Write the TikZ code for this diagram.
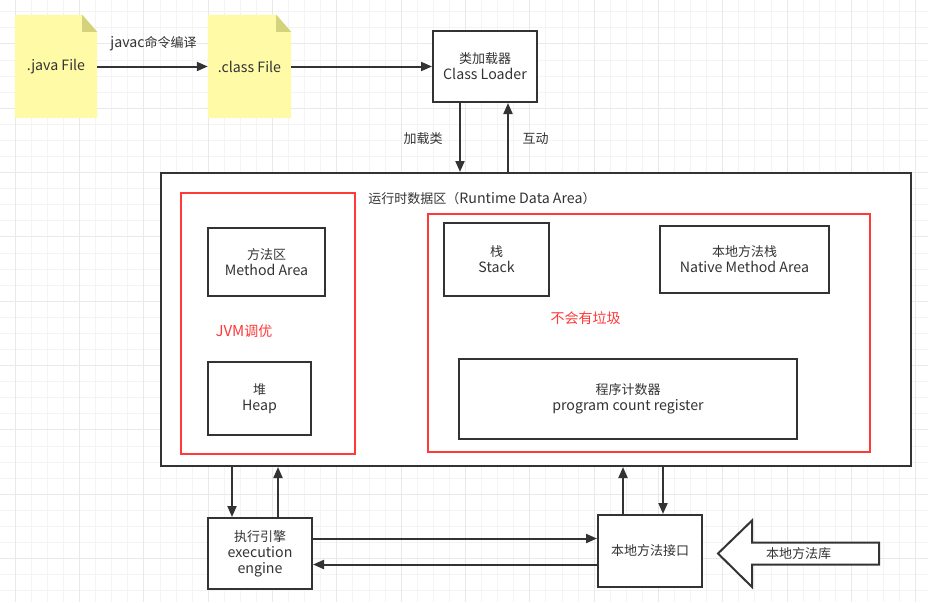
\documentclass[tikz,border=0pt]{standalone}
\usepackage{fontspec}
\setmainfont{Noto Sans CJK SC}
\newfontfamily\cj{Noto Sans CJK SC}
\usetikzlibrary{arrows.meta}
\definecolor{linec}{HTML}{333333}
\definecolor{textc}{HTML}{333333}
\definecolor{redc}{HTML}{FF3838}
\definecolor{notefill}{HTML}{FFFAA6}
\definecolor{notefold}{HTML}{D4D27A}
\definecolor{gridminor}{HTML}{F4F4F4}
\definecolor{gridmajor}{HTML}{E9E9E9}
\newcommand{\zh}[1]{{\cj\fontsize{13}{16}\selectfont #1}}
\newcommand{\zhr}[1]{{\cj\fontsize{14}{17}\selectfont #1}}
\tikzset{
  box/.style={draw=linec, line width=2pt, fill=white, align=center, inner sep=0pt,
    text=textc, font=\fontsize{14.2}{16}\selectfont},
  redbox/.style={draw=redc, line width=2pt, fill=white, inner sep=0pt},
  notebox/.style={inner sep=0pt, text=textc, font=\fontsize{14.2}{16}\selectfont},
  lbl/.style={inner sep=0pt, text=textc, font=\fontsize{14.2}{16}\selectfont},
  redlbl/.style={inner sep=0pt, text=redc, font=\fontsize{15}{17}\selectfont},
  arr/.style={draw=linec, line width=2pt, -{Triangle[length=11pt,width=9pt]}},
}
\begin{document}
\begin{tikzpicture}[x=1pt,y=-1pt]
\fill[white] (0,0) rectangle (928,602);
\useasboundingbox (0,0) rectangle (928,602);
% grid
\foreach \i in {-1,...,57} {\draw[gridminor, line width=1pt] ({15.3+16.08*\i},0) -- ({15.3+16.08*\i},602);}
\foreach \j in {-1,...,37} {\draw[gridminor, line width=1pt] (0,{11.84+16.08*\j}) -- (928,{11.84+16.08*\j});}
\foreach \i in {0,...,14} {\draw[gridmajor, line width=1pt] ({15.3+64.32*\i},0) -- ({15.3+64.32*\i},602);}
\foreach \j in {-1,...,9} {\draw[gridmajor, line width=1pt] (0,{44+64.32*\j}) -- (928,{44+64.32*\j});}

% notes
\node[notebox, minimum width=82pt, minimum height=103pt] (java) at (56,66.5) {};
\fill[notefill] (java.north west) -- ([xshift=-15pt]java.north east) -- ([yshift=-17pt]java.north east) -- (java.south east) -- (java.south west) -- cycle;
\fill[notefold] ([xshift=-15pt]java.north east) -- ([xshift=-15pt,yshift=-17pt]java.north east) -- ([yshift=-17pt]java.north east) -- cycle;
\node[notebox] at (java.center) {.java File};

\node[notebox, minimum width=83pt, minimum height=103pt] (class) at (249.5,66.5) {};
\fill[notefill] (class.north west) -- ([xshift=-15pt]class.north east) -- ([yshift=-17pt]class.north east) -- (class.south east) -- (class.south west) -- cycle;
\fill[notefold] ([xshift=-15pt]class.north east) -- ([xshift=-15pt,yshift=-17pt]class.north east) -- ([yshift=-17pt]class.north east) -- cycle;
\node[notebox] at (class.center) {.class File};

% class loader
\node[box, minimum width=104pt, minimum height=71pt] (cl) at (485,66.5) {\zh{类加载器}\\Class Loader};

% runtime data area
\node[box, minimum width=750pt, minimum height=293pt] (rda) at (536,319.5) {};
\node[lbl] (rdat) at (482,199) {\zh{运行时数据区（}Runtime Data Area\zh{）}};

\node[redbox, minimum width=174pt, minimum height=261pt] (redL) at (268,323.5) {};
\node[box, minimum width=117pt, minimum height=68pt] (ma) at (266.5,262) {\zh{方法区}\\Method Area};
\node[redlbl] (jvm) at (244,331) {JVM\zhr{调优}};
\node[box, minimum width=103pt, minimum height=73pt] (heap) at (259.5,398.5) {\zh{堆}\\Heap};

\node[redbox, minimum width=442pt, minimum height=238pt] (redR) at (649,333) {};
\node[box, minimum width=105pt, minimum height=73pt] (stack) at (496.5,259.5) {\zh{栈}\\Stack};
\node[box, minimum width=169pt, minimum height=67pt] (nms) at (744.5,259.5) {\zh{本地方法栈}\\Native Method Area};
\node[redlbl] (nogc) at (585.5,318) {\zhr{不会有垃圾}};
\node[box, minimum width=338pt, minimum height=80pt] (pc) at (628,399) {\zh{程序计数器}\\program count register};

% bottom
\node[box, minimum width=104pt, minimum height=71pt] (ee) at (260,553.5) {\zh{执行引擎}\\execution\\engine};
\node[box, minimum width=104pt, minimum height=72pt] (ni) at (650,551) {\zh{本地方法接口}};

% big arrow
\draw[linec, line width=2pt, fill=white, line join=miter] (718,553.5) -- (752,520.5) -- (752,542.5) -- (879,542.5) -- (879,564.5) -- (752,564.5) -- (752,587) -- cycle;
\node[lbl] (lib) at (798.5,554) {\zh{本地方法库}};

% connectors
\draw[arr] (java.east) -- (class.west);
\node[lbl] (javac) at (153.5,44) {javac\zh{命令编译}};
\draw[arr] (class.east) -- (cl.west);

\draw[arr] ([xshift=-25pt]cl.south) -- ([xshift=-25pt]cl.south |- rda.north);
\draw[arr] ([xshift=23pt]cl.south |- rda.north) -- ([xshift=23pt]cl.south);
\node[lbl] (load) at (423,139) {\zh{加载类}};
\node[lbl] (inter) at (535.5,139) {\zh{互动}};

\draw[arr] ([xshift=-28pt]ee.north |- rda.south) -- ([xshift=-28pt]ee.north);
\draw[arr] ([xshift=18pt]ee.north) -- ([xshift=18pt]ee.north |- rda.south);

\draw[arr] ([yshift=15pt]ee.east) -- ([yshift=15pt]ee.east -| ni.west);
\draw[arr] ([yshift=-11pt]ee.east -| ni.west) -- ([yshift=-11pt]ee.east);

\draw[arr] ([xshift=-27pt]ni.north) -- ([xshift=-27pt]ni.north |- rda.south);
\draw[arr] ([xshift=13pt]ni.north |- rda.south) -- ([xshift=13pt]ni.north);
\end{tikzpicture}
\end{document}
